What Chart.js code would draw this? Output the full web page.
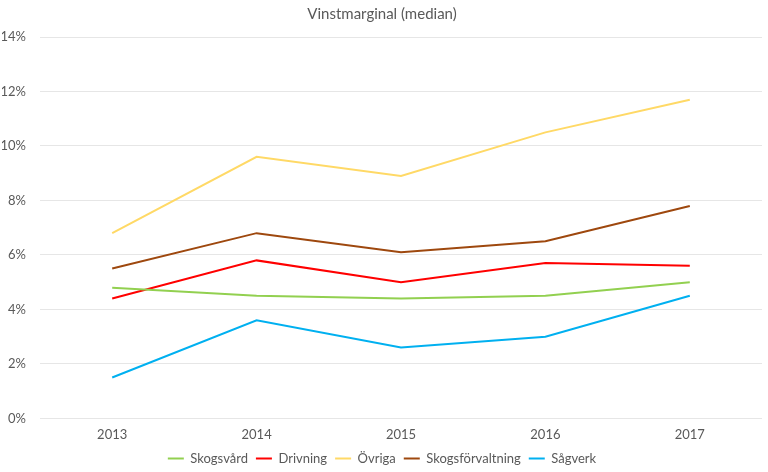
<!DOCTYPE html>
<html>
<head>
<meta charset="utf-8">
<script src="https://cdn.jsdelivr.net/npm/chart.js@4"></script>
<style>
  html, body { margin: 0; padding: 0; background: #fff; }
  #wrap { width: 768px; height: 472px; }
</style>
</head>
<body>
<div id="wrap"><canvas id="grafico" width="768" height="472"></canvas></div>
<script>
// Datos (porcentaje)
const years = ['2013', '2014', '2015', '2016', '2017'];
const skogsvard = [4.8, 4.5, 4.4, 4.5, 5.0];
const drivning = [4.4, 5.8, 5.0, 5.7, 5.6];
const ovriga = [6.8, 9.6, 8.9, 10.5, 11.7];
const skogsforvaltning = [5.5, 6.8, 6.1, 6.5, 7.8];
const sagverk = [1.5, 3.6, 2.6, 3.0, 4.5];

const fuente = 'Lato, "Open Sans", sans-serif';

function serie(label, data, color) {
    return { label, data, borderColor: color, backgroundColor: color, borderWidth: 2, tension: 0, pointRadius: 0 };
}

new Chart(document.getElementById('grafico'), {
    type: 'line',
    data: {
        labels: years,
        datasets: [
            serie('Skogsvård', skogsvard, '#92d050'),
            serie('Drivning', drivning, '#ff0000'),
            serie('Övriga', ovriga, '#ffd966'),
            serie('Skogsförvaltning', skogsforvaltning, '#9e480e'),
            serie('Sågverk', sagverk, '#00b0f0')
        ]
    },
    options: {
        responsive: false,
        animation: false,
        layout: { padding: { left: 2, right: 6, top: 0, bottom: -3 } },
        plugins: {
            title: {
                display: true, text: 'Vinstmarginal (median)', color: '#595959',
                font: { family: fuente, size: 15, weight: 'normal' },
                padding: { top: 5, bottom: 14 }
            },
            legend: {
                position: 'bottom',
                labels: {
                    color: '#595959', boxWidth: 16, boxHeight: 2,
                    font: { family: fuente, size: 13 }, padding: 8,
                    // línea fina sin borde en la leyenda
                    generateLabels: chart => Chart.defaults.plugins.legend.labels.generateLabels(chart)
                        .map(l => Object.assign(l, { lineWidth: 0 }))
                }
            },
            tooltip: { enabled: false }
        },
        scales: {
            x: {
                offset: true,
                grid: { display: false },
                border: { display: false },
                ticks: { color: '#595959', font: { family: fuente, size: 13 }, padding: 1 }
            },
            y: {
                min: 0, max: 14,
                grid: { color: '#e6e6e6', drawTicks: false },
                border: { display: false },
                afterFit: axis => { axis.width = 38; },
                ticks: {
                    stepSize: 2, color: '#595959', padding: 14,
                    font: { family: fuente, size: 13 },
                    callback: v => v + '%'
                }
            }
        }
    }
});
</script>
</body>
</html>
